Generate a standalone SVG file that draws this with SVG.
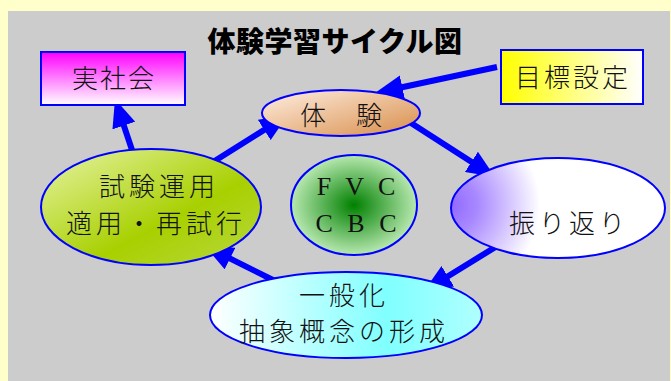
<svg xmlns="http://www.w3.org/2000/svg" width="671" height="381" viewBox="0 0 671 381">
<defs>
<style>
.node{stroke:#0000FF;stroke-width:2}
.t{font-family:"Liberation Serif","Noto Sans CJK JP",serif;font-size:26px;fill:#111;text-anchor:middle;font-weight:300}
.title{font-family:"Noto Sans CJK JP",sans-serif;font-size:28px;font-weight:900;fill:#000;text-anchor:middle}
.arrow{stroke:#0000FF;stroke-width:6;fill:none;marker-end:url(#ah)}
</style>
<marker id="ah" markerUnits="userSpaceOnUse" markerWidth="28" markerHeight="24" refX="16" refY="12" orient="auto" viewBox="0 0 28 24">
<path d="M0,0 L28,12 L0,24 z" fill="#0000FF"/>
</marker>
<linearGradient id="gMag" x1="0" y1="0" x2="0" y2="1">
<stop offset="0" stop-color="#FF00FF"/><stop offset="1" stop-color="#FFFFFF"/>
</linearGradient>
<linearGradient id="gYel" x1="0" y1="0" x2="1" y2="0">
<stop offset="0" stop-color="#FFFF00"/><stop offset="1" stop-color="#FFFFFF"/>
</linearGradient>
<linearGradient id="gOra" x1="0" y1="0" x2="1" y2="1">
<stop offset="0" stop-color="#FFF0E4"/><stop offset="1" stop-color="#D88C48"/>
</linearGradient>
<radialGradient id="gPur" gradientUnits="userSpaceOnUse" cx="450" cy="205" r="90">
<stop offset="0" stop-color="#9068FF"/><stop offset="0.3" stop-color="#A888FF"/><stop offset="1" stop-color="#FFFFFF"/>
</radialGradient>
<linearGradient id="gLime" x1="0" y1="0" x2="1" y2="1">
<stop offset="0" stop-color="#E8F4A8"/><stop offset="0.6" stop-color="#A8D000"/><stop offset="1" stop-color="#B8D840"/>
</linearGradient>
<radialGradient id="gGrn" cx="0.5" cy="0.5" r="0.5">
<stop offset="0" stop-color="#008000"/><stop offset="1" stop-color="#B8E8B0"/>
</radialGradient>
<linearGradient id="gCya" x1="0" y1="0" x2="1" y2="0">
<stop offset="0" stop-color="#FFFFFF"/><stop offset="0.65" stop-color="#80FFFF"/><stop offset="1" stop-color="#B0FFFF"/>
</linearGradient>
</defs>
<rect x="0" y="0" width="671" height="381" fill="#FFFFCC"/>
<rect x="8" y="11" width="662" height="370" fill="#CCCCCC"/>
<text class="title" x="335" y="52" letter-spacing="0.5">体験学習サイクル図</text>

<g id="connectors">
<line class="arrow" x1="497" y1="67" x2="386.7" y2="90.5"/>
<line class="arrow" x1="411" y1="123" x2="484.9" y2="170.5"/>
<line class="arrow" x1="502" y1="243" x2="434.2" y2="284.7"/>
<line class="arrow" x1="279" y1="283" x2="215.7" y2="251.4"/>
<line class="arrow" x1="213" y1="162" x2="277.8" y2="121.4"/>
<line class="arrow" x1="134" y1="156" x2="118.8" y2="110.4"/>
</g>

<g id="jissyakai">
<rect class="node" x="41" y="52" width="144" height="53" fill="url(#gMag)"/>
<text class="t" x="114" y="88" letter-spacing="2">実社会</text>
</g>
<g id="mokuhyo">
<rect class="node" x="501" y="50" width="142" height="54" fill="url(#gYel)"/>
<text class="t" x="573" y="87" letter-spacing="3">目標設定</text>
</g>
<g id="taiken">
<ellipse class="node" cx="341" cy="113" rx="79" ry="23" fill="url(#gOra)"/>
<text class="t" x="342" y="125" letter-spacing="2">体　験</text>
</g>
<g id="furikaeri">
<ellipse class="node" cx="558" cy="208" rx="107" ry="50" fill="url(#gPur)"/>
<text class="t" x="569" y="233" letter-spacing="4">振り返り</text>
</g>
<g id="ippanka">
<ellipse class="node" cx="346" cy="315" rx="136" ry="43" fill="url(#gCya)"/>
<text class="t" x="344" y="305" letter-spacing="4">一般化</text>
<text class="t" x="344" y="341" letter-spacing="4">抽象概念の形成</text>
</g>
<g id="shiken">
<ellipse class="node" cx="151" cy="207" rx="110" ry="58" fill="url(#gLime)"/>
<text class="t" x="159" y="196" letter-spacing="4">試験運用</text>
<text class="t" x="156" y="233" letter-spacing="4">適用・再試行</text>
</g>
<g id="fvc">
<ellipse class="node" cx="354" cy="205" rx="63" ry="50" fill="url(#gGrn)"/>
<text class="t" x="358" y="195" font-size="28" letter-spacing="4">F V C</text>
<text class="t" x="358" y="232" font-size="28" letter-spacing="4">C B C</text>
</g>
</svg>
